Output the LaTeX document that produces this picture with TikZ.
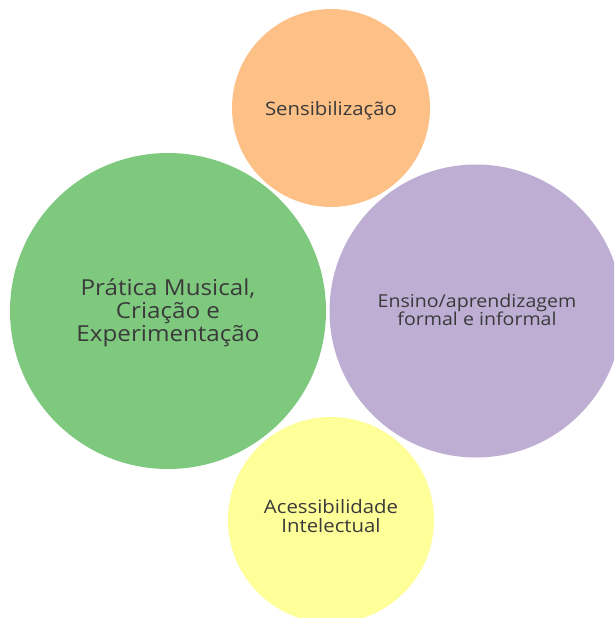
\documentclass[tikz,border=0pt]{standalone}
\usepackage{fontspec}
\setmainfont[FakeStretch=1.1]{Open Sans}
\definecolor{cgreen}{HTML}{7FC97F}
\definecolor{cpurple}{HTML}{BEAED4}
\definecolor{corange}{HTML}{FDC086}
\definecolor{cyellow}{HTML}{FFFF99}
\definecolor{ctext}{HTML}{3A3A3A}
\begin{document}
\begin{tikzpicture}[x=1pt,y=-1pt,
  bubble/.style={circle,inner sep=0pt,outer sep=0pt,draw=none},
  lbl/.style={text=ctext,align=center,inner sep=0pt}]
\useasboundingbox (0,0) rectangle (614,618);
\begin{scope}
\clip (0,0) rectangle (614,618);
\fill[corange] (331,108) circle (99);
\fill[cgreen] (168,311) circle (158);
\fill[cpurple] (476,311) circle (146.5);
\fill[cyellow] (331,520) circle (103);
\end{scope}
\node[lbl,font=\fontsize{18.5}{20}\selectfont] (s) at (331,111) {Sensibilização};
\node[lbl,font=\fontsize{22}{23}\selectfont] (p) at (168,313) {Prática Musical,\\Criação e\\Experimentação};
\node[lbl,font=\fontsize{17.8}{18.5}\selectfont] (e) at (477,310) {Ensino/aprendizagem\\formal e informal};
\node[lbl,font=\fontsize{18.5}{19.5}\selectfont] (a) at (331,516) {Acessibilidade\\Intelectual};
\end{tikzpicture}
\end{document}
